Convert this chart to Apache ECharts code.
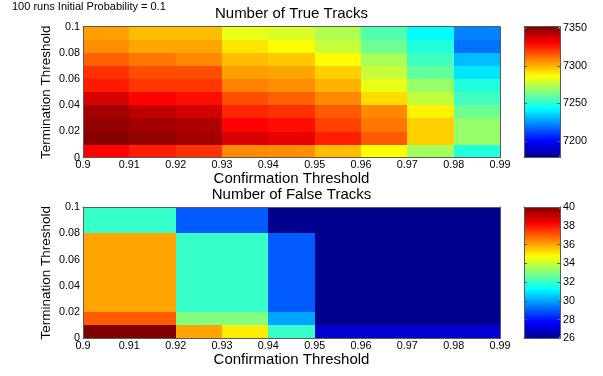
<!DOCTYPE html>
<html>
<head>
<meta charset="utf-8">
<script src="https://cdn.jsdelivr.net/npm/echarts@6.0.0/dist/echarts.min.js"></script>
<style>
  html, body { margin: 0; padding: 0; background: #fff; }
  #root { width: 603px; height: 376px; }
</style>
</head>
<body>
<div id="root"></div>
<script>
// Cell edges: left edge of each confirmation bin, bottom edge of each termination bin
var confirmation = [0.90, 0.91, 0.92, 0.93, 0.94, 0.95, 0.96, 0.97, 0.98];
var termination = [0.00, 0.01, 0.02, 0.03, 0.04, 0.05, 0.06, 0.07, 0.08, 0.09];
var binSize = 0.01;

// One row per termination bin (bottom row first), one value per confirmation bin
var trueTracks = [
  [7330, 7325, 7322, 7307, 7306, 7298, 7287, 7271, 7249],
  [7351, 7349, 7346, 7337, 7334, 7325, 7315, 7295, 7269],
  [7349, 7346, 7344, 7330, 7328, 7319, 7310, 7295, 7269],
  [7346, 7341, 7338, 7324, 7322, 7315, 7307, 7289, 7262],
  [7337, 7330, 7328, 7317, 7314, 7307, 7293, 7276, 7254],
  [7326, 7321, 7321, 7308, 7306, 7300, 7283, 7269, 7249],
  [7322, 7317, 7317, 7303, 7302, 7295, 7277, 7260, 7239],
  [7314, 7310, 7307, 7298, 7296, 7287, 7272, 7254, 7232],
  [7306, 7302, 7302, 7291, 7287, 7277, 7262, 7249, 7219],
  [7303, 7298, 7298, 7283, 7280, 7273, 7257, 7243, 7222]
];
var falseTracks = [
  [40, 40, 36, 35, 32, 27, 27, 27, 27],
  [37, 37, 33, 33, 30, 26, 26, 26, 26],
  [36, 36, 32, 32, 29, 26, 26, 26, 26],
  [36, 36, 32, 32, 29, 26, 26, 26, 26],
  [36, 36, 32, 32, 29, 26, 26, 26, 26],
  [36, 36, 32, 32, 29, 26, 26, 26, 26],
  [36, 36, 32, 32, 29, 26, 26, 26, 26],
  [36, 36, 32, 32, 29, 26, 26, 26, 26],
  [32, 32, 29, 29, 26, 26, 26, 26, 26],
  [32, 32, 29, 29, 26, 26, 26, 26, 26]
];

// Colour bar ranges and tick labels
var trueRange = [7178, 7352];
var trueBarTicks = [7200, 7250, 7300, 7350];
var falseRange = [26, 40];
var falseBarTicks = [26, 28, 30, 32, 34, 36, 38, 40];

// MATLAB "jet"
var jet = ['#00008f', '#0000ff', '#0080ff', '#00ffff', '#80ff80',
           '#ffff00', '#ff8000', '#ff0000', '#800000'];

var FONT = 'Liberation Sans, Arial, Helvetica, sans-serif';

function toCells(rows) {
  var out = [];
  rows.forEach(function (row, j) {
    row.forEach(function (v, i) {
      out.push([confirmation[i], termination[j], v]);
    });
  });
  return out;
}

// Draw each cell as a rectangle spanning one bin in both directions
function renderCell(params, api) {
  var a = api.coord([api.value(0), api.value(1)]);
  var b = api.coord([api.value(0) + binSize, api.value(1) + binSize]);
  var x0 = Math.round(a[0]), x1 = Math.round(b[0]);
  var y0 = Math.round(b[1]), y1 = Math.round(a[1]);
  return {
    type: 'rect',
    shape: { x: x0, y: y0, width: x1 - x0, height: y1 - y0 },
    style: { fill: api.visual('color') }
  };
}

var plots = [
  { top: 26.7, height: 131, title: 'Number of True Tracks' },
  { top: 207, height: 131.5, title: 'Number of False Tracks' }
];

var lineStyle = { color: '#5a5a5a', width: 1 };

var grids = [], xAxes = [], yAxes = [];
plots.forEach(function (p, k) {
  grids.push({ left: 83, width: 417, top: p.top, height: p.height });
  xAxes.push({
    type: 'value', gridIndex: k, position: 'bottom', z: 10,
    min: 0.9, max: 0.99, interval: 0.01,
    axisLine: { lineStyle: lineStyle, onZero: false },
    axisTick: { show: false }, splitLine: { show: false },
    axisLabel: { color: '#000', fontFamily: FONT, fontSize: 10.8, margin: 2 },
    name: 'Confirmation Threshold', nameLocation: 'middle', nameGap: 14,
    nameMoveOverlap: false,
    nameTextStyle: { color: '#000', fontFamily: FONT, fontSize: 15 }
  });
  xAxes.push({
    type: 'value', gridIndex: k, position: 'top', z: 10,
    min: 0.9, max: 0.99,
    axisLine: { lineStyle: lineStyle, onZero: false },
    axisTick: { show: false }, axisLabel: { show: false }, splitLine: { show: false },
    name: p.title, nameLocation: 'middle', nameGap: 5, nameMoveOverlap: false,
    nameTextStyle: { color: '#000', fontFamily: FONT, fontSize: 15 }
  });
  yAxes.push({
    type: 'value', gridIndex: k, position: 'left', z: 10,
    min: 0, max: 0.1, interval: 0.02,
    axisLine: { lineStyle: lineStyle, onZero: false },
    axisTick: { show: false }, splitLine: { show: false },
    axisLabel: { color: '#000', fontFamily: FONT, fontSize: 10.8, margin: 3 },
    name: 'Termination Threshold', nameLocation: 'middle', nameGap: 30,
    nameMoveOverlap: false,
    nameTextStyle: { color: '#000', fontFamily: FONT, fontSize: 13.5 }
  });
  yAxes.push({
    type: 'value', gridIndex: k, position: 'right', z: 10,
    min: 0, max: 0.1,
    axisLine: { lineStyle: lineStyle, onZero: false },
    axisTick: { show: false }, axisLabel: { show: false }, splitLine: { show: false }
  });
});

// Colour bar frames with their tick labels
var bars = [
  { top: 26.7, height: 131, range: trueRange, ticks: trueBarTicks },
  { top: 207, height: 131.5, range: falseRange, ticks: falseBarTicks }
];
bars.forEach(function (b, k) {
  var gi = grids.length;
  grids.push({ left: 524, width: 36, top: b.top, height: b.height });
  ['bottom', 'top'].forEach(function (pos) {
    xAxes.push({
      type: 'value', gridIndex: gi, position: pos, min: 0, max: 1, z: 10,
      axisLine: { lineStyle: lineStyle, onZero: false },
      axisTick: { show: false }, axisLabel: { show: false }, splitLine: { show: false }
    });
  });
  ['left', 'right'].forEach(function (pos) {
    yAxes.push({
      type: 'value', gridIndex: gi, position: pos, z: 10,
      min: b.range[0], max: b.range[1],
      axisLine: { lineStyle: lineStyle, onZero: false },
      axisTick: { show: true, inside: true, length: 3, lineStyle: lineStyle, customValues: b.ticks },
      axisLabel: {
        show: pos === 'right', customValues: b.ticks, color: '#000',
        fontFamily: FONT, fontSize: 10.8, margin: 3,
        formatter: function (v) { return String(v); }
      },
      splitLine: { show: false }
    });
  });
});

var chart = echarts.init(document.getElementById('root'), null, { renderer: 'canvas' });
chart.setOption({
  backgroundColor: '#ffffff',
  animation: false,
  title: {
    text: '100 runs Initial Probability = 0.1', left: 12, top: 1, padding: 0,
    textStyle: { color: '#000', fontFamily: FONT, fontSize: 11, fontWeight: 'normal' }
  },
  grid: grids,
  xAxis: xAxes,
  yAxis: yAxes,
  visualMap: [
    {
      type: 'continuous', seriesIndex: 0, dimension: 2,
      min: trueRange[0], max: trueRange[1], inRange: { color: jet },
      left: 524, top: 26.7, itemWidth: 36, itemHeight: 131, padding: 0,
      calculable: false, hoverLink: false, text: null
    },
    {
      type: 'continuous', seriesIndex: 1, dimension: 2,
      min: falseRange[0], max: falseRange[1], inRange: { color: jet },
      left: 524, top: 207, itemWidth: 36, itemHeight: 131.5, padding: 0,
      calculable: false, hoverLink: false, text: null
    }
  ],
  series: [
    {
      type: 'custom', xAxisIndex: 0, yAxisIndex: 0,
      renderItem: renderCell, data: toCells(trueTracks)
    },
    {
      type: 'custom', xAxisIndex: 2, yAxisIndex: 2,
      renderItem: renderCell, data: toCells(falseTracks)
    }
  ]
});
</script>
</body>
</html>
